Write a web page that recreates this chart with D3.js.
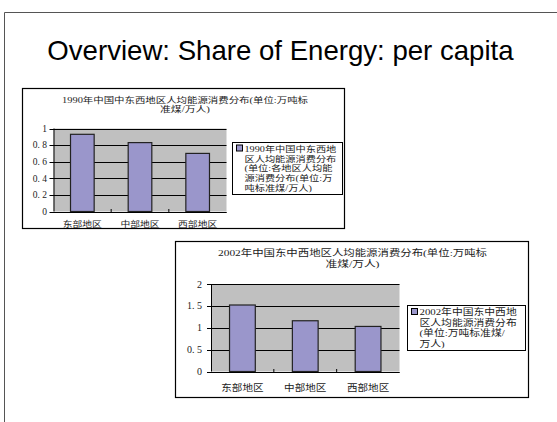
<!DOCTYPE html>
<html><head><meta charset="utf-8">
<script src="https://cdn.jsdelivr.net/npm/d3@7"></script>
<style>html,body{margin:0;padding:0;background:#fff;}svg{display:block;}</style>
</head><body>
<script>
const slideTitle = "Overview: Share of Energy: per capita";
const categories = ["东部地区", "中部地区", "西部地区"];
const values1990 = [0.93, 0.83, 0.70];
const values2002 = [1.52, 1.16, 1.03];
const ticks1990 = [0, 0.2, 0.4, 0.6, 0.8, 1];
const tickLabels1990 = ["0", "0. 2", "0. 4", "0. 6", "0. 8", "1"];
const ticks2002 = [0, 0.5, 1, 1.5, 2];
const tickLabels2002 = ["0", "0. 5", "1", "1. 5", "2"];
const title1990 = ["1990年中国中东西地区人均能源消费分布(单位:万吨标", "准煤/万人)"];
const title2002 = ["2002年中国东中西地区人均能源消费分布(单位:万吨标", "准煤/万人)"];
const legend1990 = ["1990年中国中东西地", "区人均能源消费分布", "(单位:各地区人均能", "源消费分布(单位:万", "吨标准煤/万人)"];
const legend2002 = ["2002年中国东中西地", "区人均能源消费分布", "(单位:万吨标准煤/", "万人)"];

const W = 557, H = 422;
const FONT = "'Liberation Serif','Noto Sans CJK SC',serif";
const BAR = "#9a96cb", PLOT = "#c0c0c0";

const svg = d3.select("body").append("svg").attr("width", W).attr("height", H);

// stretch text horizontally (reference font renders wide)
function stretch(sel, sx) {
  sel.each(function () {
    const len = this.getComputedTextLength();
    d3.select(this).attr("textLength", len * sx).attr("lengthAdjust", "spacingAndGlyphs");
  });
}

// slide frame
svg.append("path").attr("d", `M4.5,${H} V12.5 H${W}`).attr("fill", "none").attr("stroke", "#555").attr("stroke-width", 1);
svg.append("text").attr("x", 280.5).attr("y", 60).attr("text-anchor", "middle")
  .attr("font-family", "'Liberation Sans',Arial,sans-serif").attr("font-size", 27.6)
  .attr("fill", "#000").text(slideTitle);

function drawChart(cfg) {
  const g = svg.append("g");
  g.append("rect").attr("x", cfg.box[0] + 0.5).attr("y", cfg.box[1] + 0.5)
    .attr("width", cfg.box[2] - cfg.box[0]).attr("height", cfg.box[3] - cfg.box[1])
    .attr("fill", "#fff").attr("stroke", "#000").attr("stroke-width", 1.2);

  cfg.title.forEach((t, i) => {
    g.append("text").attr("x", cfg.titleX).attr("y", cfg.titleY + i * cfg.titleLH)
      .attr("text-anchor", "middle").attr("font-family", FONT).attr("font-size", cfg.titleFS)
      .attr("fill", "#222").text(t)
      .attr("textLength", cfg.titleW[i]).attr("lengthAdjust", "spacingAndGlyphs");
  });

  const [x0, x1, y0, y1] = cfg.plot; // left,right,top,bottom
  const x = d3.scaleBand().domain(cfg.cats).range([x0, x1]).paddingInner(0.59).paddingOuter(0.295);
  const y = d3.scaleLinear().domain([0, cfg.max]).range([y1, y0]);

  g.append("rect").attr("x", x0).attr("y", y0).attr("width", x1 - x0).attr("height", y1 - y0).attr("fill", PLOT);

  // gridlines
  g.append("g").selectAll("line").data(cfg.ticks).join("line")
    .attr("x1", x0 - 4).attr("x2", x1).attr("y1", d => Math.round(y(d)) + 0.5).attr("y2", d => Math.round(y(d)) + 0.5)
    .attr("stroke", "#000").attr("stroke-width", 1);

  // bars
  g.append("g").selectAll("rect").data(cfg.values).join("rect")
    .attr("x", (d, i) => x(cfg.cats[i])).attr("y", d => y(d))
    .attr("width", x.bandwidth()).attr("height", d => y(0) - y(d))
    .attr("fill", BAR).attr("stroke", "#222").attr("stroke-width", 1.2);

  // axes lines
  g.append("line").attr("x1", x0 + 0.5).attr("x2", x0 + 0.5).attr("y1", y0).attr("y2", y1).attr("stroke", "#000");
  g.append("line").attr("x1", x0).attr("x2", x1).attr("y1", Math.round(y1) + 0.5).attr("y2", Math.round(y1) + 0.5).attr("stroke", "#000");
  const step = (x1 - x0) / cfg.cats.length;
  g.append("g").selectAll("line").data(d3.range(1, cfg.cats.length)).join("line")
    .attr("x1", d => x0 + d * step).attr("x2", d => x0 + d * step)
    .attr("y1", Math.round(y1) - 3).attr("y2", Math.round(y1)).attr("stroke", "#000");

  // y tick labels
  g.append("g").selectAll("text").data(cfg.ticks).join("text")
    .attr("x", cfg.yLabelX).attr("y", d => y(d)).attr("dy", "0.35em").attr("text-anchor", "end")
    .attr("font-family", FONT).attr("font-size", cfg.tickFS).attr("fill", "#222")
    .text((d, i) => cfg.tickLabels[i]);

  // x labels
  stretch(g.append("g").selectAll("text").data(cfg.cats).join("text")
    .attr("x", d => x(d) + x.bandwidth() / 2).attr("y", cfg.xLabelY).attr("text-anchor", "middle")
    .attr("font-family", FONT).attr("font-size", cfg.catFS).attr("fill", "#222").text(d => d), cfg.sx);

  // legend
  const L = cfg.legend;
  g.append("rect").attr("x", L.box[0] + 0.5).attr("y", L.box[1] + 0.5)
    .attr("width", L.box[2] - L.box[0]).attr("height", L.box[3] - L.box[1])
    .attr("fill", "#fff").attr("stroke", "#000").attr("stroke-width", 1);
  g.append("rect").attr("x", L.box[0] + 4.5).attr("y", L.firstY - 3.5).attr("width", 6).attr("height", 6)
    .attr("fill", BAR).attr("stroke", "#000").attr("stroke-width", 1);
  stretch(g.append("g").selectAll("text").data(L.lines).join("text")
    .attr("x", L.box[0] + 12.5).attr("y", (d, i) => L.firstY + 3.2 + i * L.lh)
    .attr("font-family", FONT).attr("font-size", L.fs).attr("fill", "#222").text(d => d), L.sx);
}

drawChart({
  box: [22, 88, 344, 228],
  title: title1990, titleX: 185, titleY: 103, titleLH: 9.2, titleFS: 8.2, titleW: [246, 50],
  plot: [53.5, 226.5, 128.5, 211.5], max: 1,
  cats: categories, values: values1990, ticks: ticks1990, tickLabels: tickLabels1990,
  yLabelX: 47, tickFS: 9.5, xLabelY: 226.5, catFS: 8.5, sx: 1.15,
  legend: { box: [232, 142, 342, 194], lines: legend1990, firstY: 148.5, lh: 9.8, fs: 8.5, sx: 1.2 }
});

drawChart({
  box: [175, 241, 528, 397],
  title: title2002, titleX: 352.5, titleY: 256, titleLH: 10.5, titleFS: 9, titleW: [269, 54],
  plot: [211, 399.5, 284, 371.5], max: 2,
  cats: categories, values: values2002, ticks: ticks2002, tickLabels: tickLabels2002,
  yLabelX: 202, tickFS: 10, xLabelY: 390.5, catFS: 9.2, sx: 1.15,
  legend: { box: [407, 305, 525, 350], lines: legend2002, firstY: 312, lh: 10.5, fs: 9, sx: 1.2 }
});
</script>
</body></html>
